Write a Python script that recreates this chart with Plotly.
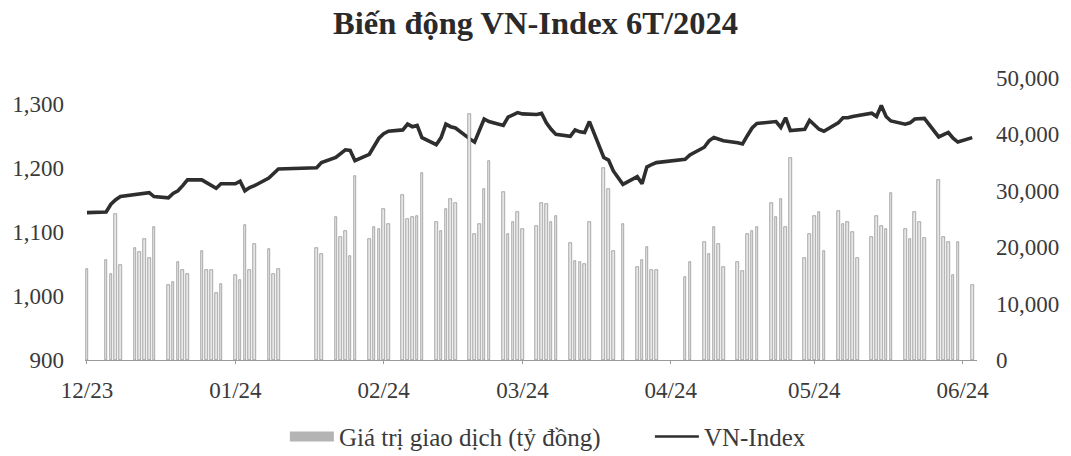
import plotly.graph_objects as go

# ---- data ----
dec23_days = [29]
jan24_days = [2, 3, 4, 5, 8, 9, 10, 11, 12, 15, 16, 17, 18, 19, 22, 23, 24, 25, 26, 29, 30, 31]
feb24_days = [1, 2, 5, 6, 7, 15, 16, 19, 20, 21, 22, 23, 26, 27, 28, 29]
mar24_days = [1, 4, 5, 6, 7, 8, 11, 12, 13, 14, 15, 18, 19, 20, 21, 22, 25, 26, 27, 28, 29]
apr24_days = [1, 2, 3, 4, 5, 8, 9, 10, 11, 12, 15, 16, 17, 19, 22, 23, 24, 25, 26]
may24_days = [2, 3, 6, 7, 8, 9, 10, 13, 14, 15, 16, 17, 20, 21, 22, 23, 24, 27, 28, 29, 30, 31]
jun24_days = [3, 4, 5, 6, 7, 10, 11, 12, 13, 14, 17, 18, 19, 20, 21, 24, 25, 26, 27, 28]
jul24_days = [1]

vn_index = [
    1130,
    1131, 1143, 1150, 1155, 1158, 1158, 1160, 1161, 1155, 1153, 1160, 1164, 1172, 1181, 1181, 1177,
    1173, 1168, 1175, 1175, 1179, 1164,
    1169, 1172, 1184, 1192, 1198, 1200, 1208, 1216, 1222, 1228, 1227, 1211, 1221, 1233, 1246, 1253,
    1257, 1259, 1268, 1264, 1266, 1247, 1236, 1247, 1268, 1264, 1262, 1245, 1240, 1258, 1276, 1272,
    1266, 1279, 1282, 1286, 1284,
    1283, 1285, 1270, 1260, 1252, 1249, 1259, 1256, 1255, 1272, 1216, 1212, 1195, 1174, 1186, 1175,
    1201, 1205, 1208,
    1213, 1220, 1232, 1242, 1247, 1245, 1242, 1239, 1237, 1250, 1262, 1269, 1271, 1272, 1263, 1278,
    1258, 1260, 1274, 1266, 1260, 1257,
    1270, 1278, 1278, 1280, 1281, 1285, 1280, 1297, 1280, 1273, 1268, 1270, 1276, 1276, 1277, 1248,
    1252, 1255, 1246, 1240,
    1247,
]

trade_value = [
    16200,
    17700, 15300, 25900, 16800, 19900, 19200, 21400, 18000, 23600, 13300, 13900, 17400, 15900, 15300,
    19400, 15900, 16000, 11800, 13500, 15000, 14100, 23900,
    15900, 20600, 19700, 15300, 16200, 19900, 18800, 25300, 21800, 22900, 18500, 32600, 21500, 23600,
    23300, 26800,
    24100, 29200, 25000, 25300, 25600, 33200, 24400, 22900, 26800, 28500, 27900, 43700, 22300, 24100,
    30300, 35200, 29700, 22300, 24500, 26200, 23300,
    23800, 27900, 27600, 24400, 25600, 20800, 17500, 17400, 17100, 24400, 34100, 30300, 19400, 24100,
    16500, 17700, 20100, 15900, 15900,
    14800, 17400, 20900, 18800, 23600, 20600, 16500, 17400, 15700, 22300, 22900, 23600, 27900, 25300,
    28500, 23600, 35900, 18000, 22300, 25600, 26200, 19400,
    26500, 24100, 24400, 22700, 18000, 21800, 25600, 23800, 23300, 29600, 23300, 21500, 26200, 24400,
    21600, 32000, 21800, 20900, 15000, 21000,
    13300,
]

tick_dates = ["2023-12-29", "2024-01-29", "2024-02-29", "2024-03-29", "2024-04-29", "2024-05-29", "2024-06-29"]
tick_labels = ["12/23", "01/24", "02/24", "03/24", "04/24", "05/24", "06/24"]
left_ticks = [900, 1000, 1100, 1200, 1300]
right_ticks = [0, 10000, 20000, 30000, 40000, 50000]

title_text = "Biến động VN-Index 6T/2024"
bar_name = "Giá trị giao dịch (tỷ đồng)"
line_name = "VN-Index"

# ---- build dates ----
months = [("2023-12", dec23_days), ("2024-01", jan24_days), ("2024-02", feb24_days),
          ("2024-03", mar24_days), ("2024-04", apr24_days), ("2024-05", may24_days),
          ("2024-06", jun24_days), ("2024-07", jul24_days)]
dates = [f"{m}-{d:02d}" for m, days in months for d in days]

FONT = "Liberation Serif"
TXT = "#3a3a3a"
DAY_MS = 86400000

fig = go.Figure()
fig.add_trace(go.Bar(
    x=dates, y=trade_value, yaxis="y2", name=bar_name, showlegend=False,
    width=DAY_MS * 0.55,
    marker=dict(color="#e6e6e6", line=dict(color="#7a7a7a", width=0.6)),
))
fig.add_trace(go.Scatter(
    x=dates, y=vn_index, yaxis="y", name=line_name, mode="lines", showlegend=False,
    line=dict(color="#2e2e2e", width=3.6),
))
# legend entries
fig.add_trace(go.Scatter(x=[None], y=[None], mode="lines", name=bar_name,
                         line=dict(color="#b4b4b4", width=10)))
fig.add_trace(go.Scatter(x=[None], y=[None], mode="lines", name=line_name,
                         line=dict(color="#2e2e2e", width=2.5)))

fig.update_layout(
    width=1071, height=456,
    margin=dict(l=85, r=94, t=78, b=96, autoexpand=False),
    paper_bgcolor="white", plot_bgcolor="white",
    font=dict(family=FONT, size=23, color=TXT),
    title=dict(text=f"<b>{title_text}</b>", x=0.5, xanchor="center", y=0.95, yanchor="middle",
               font=dict(family=FONT, size=32.5, color="#2a2a2a")),
    bargap=0,
    xaxis=dict(
        type="date", range=["2023-12-28 14:00", "2024-07-02 00:00"],
        tickvals=tick_dates, ticktext=tick_labels,
        showgrid=False, zeroline=False,
        showline=True, linecolor="#9a9a9a", linewidth=1,
        ticks="outside", ticklen=3, tickcolor="#9a9a9a",
        ticklabelstandoff=6, automargin=False,
    ),
    yaxis=dict(
        range=[900, 1340], tickvals=left_ticks, tickformat=",d",
        showgrid=False, zeroline=False, showline=False,
        ticklabelstandoff=20, automargin=False,
    ),
    yaxis2=dict(
        range=[0, 50000], tickvals=right_ticks, tickformat=",d",
        overlaying="y", side="right",
        showgrid=False, zeroline=False, showline=False,
        ticklabelstandoff=18, automargin=False,
    ),
    legend=dict(orientation="h", xref="container", yref="container",
                x=0.266, xanchor="left", y=0.042, yanchor="middle",
                font=dict(family=FONT, size=25, color=TXT), itemwidth=44,
                entrywidth=306, entrywidthmode="pixels",
                traceorder="normal"),
)
fig.write_html("out.html", post_script="document.body.style.margin='0';",
               config={"displayModeBar": False})
